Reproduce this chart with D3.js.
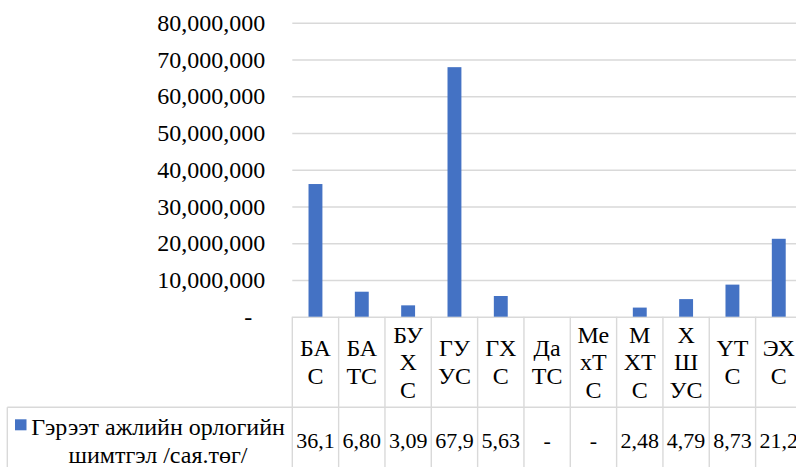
<!DOCTYPE html>
<html>
<head>
<meta charset="utf-8">
<script src="https://cdn.jsdelivr.net/npm/d3@7"></script>
<style>
  body { margin: 0; background: #fff; }
  svg { display: block; }
</style>
</head>
<body>
<div id="chart"></div>
<script>
// ангиллууд (мөр мөрөөр нь)
var categories = ["БАС", "БАТС", "БУХС", "ГУУС", "ГХС", "ДаТС", "МехТС", "МХТС", "ХШУС", "ҮТС", "ЭХС"];
var catLines = [["БА", "С"], ["БА", "ТС"], ["БУ", "Х", "С"], ["ГУ", "УС"], ["ГХ", "С"], ["Да", "ТС"],
                ["Ме", "хТ", "С"], ["М", "ХТ", "С"], ["Х", "Ш", "УС"], ["ҮТ", "С"], ["ЭХ", "С"]];
var values = [36100000, 6800000, 3090000, 67900000, 5630000, 0, 0, 2480000, 4790000, 8730000, 21200000];
var seriesName = ["Гэрээт ажлийн орлогийн", "шимтгэл /сая.төг/"];
var yTicks = [0, 10000000, 20000000, 30000000, 40000000, 50000000, 60000000, 70000000, 80000000];

var W = 796, H = 467;
var plotLeft = 292.3, plotTop = 22.7, plotBottom = 316.7, step = 46.33;
var rowTop = 407.3, tableLeft = 7.3;
var blue = "#4472c4", grid = "#d9d9d9";
var font = "'Liberation Serif', Tinos, 'Times New Roman', Times, 'DejaVu Serif', serif";

var svg = d3.select("#chart").append("svg")
    .attr("width", W).attr("height", H);

var x = d3.scaleBand().domain(categories)
    .range([plotLeft, plotLeft + step * categories.length])
    .paddingInner(0.7).paddingOuter(0.35);
var y = d3.scaleLinear().domain([0, 80000000]).range([plotBottom, plotTop]);

// хэвтээ шугамууд
var yAxis = d3.axisLeft(y).tickValues(yTicks)
    .tickSize(-(W - plotLeft)).tickPadding(27)
    .tickFormat(function (d) { return d === 0 ? "-" : d3.format(",")(d); });
var ga = svg.append("g").attr("transform", "translate(" + plotLeft + ",0)").call(yAxis);
ga.select(".domain").remove();
ga.selectAll(".tick line").attr("stroke", grid).attr("stroke-width", 1.4);
ga.selectAll(".tick text").attr("font-size", 24).attr("fill", "#000");
ga.selectAll(".tick text").filter(function (d) { return d === 0; }).attr("x", -40);

// багана
svg.append("g").selectAll("rect").data(values).enter().append("rect")
    .attr("x", function (d, i) { return x(categories[i]); })
    .attr("y", function (d) { return y(d); })
    .attr("width", x.bandwidth())
    .attr("height", function (d) { return y(0) - y(d); })
    .attr("fill", blue);

// хүснэгт
var cellX = function (i) { return x(categories[i]) - x.step() * x.paddingOuter(); };
var t = svg.append("g").attr("stroke", grid).attr("stroke-width", 1.4);
for (var i = 0; i <= categories.length; i++) {
    var cx = plotLeft + i * x.step();
    t.append("line").attr("x1", cx).attr("x2", cx).attr("y1", plotBottom).attr("y2", H);
}
t.append("line").attr("x1", tableLeft).attr("x2", W).attr("y1", rowTop).attr("y2", rowTop);
t.append("line").attr("x1", tableLeft).attr("x2", tableLeft).attr("y1", rowTop).attr("y2", H);

// ангиллын нэрс
var lh = 27.5, mid = (plotBottom + rowTop) / 2;
catLines.forEach(function (lines, i) {
    var tx = svg.append("text").attr("text-anchor", "middle").attr("font-size", 24);
    lines.forEach(function (s, j) {
        tx.append("tspan").attr("x", cellX(i) + x.step() / 2)
            .attr("y", mid + (j - (lines.length - 1) / 2) * lh + 8).text(s);
    });
});

// утгууд (багтахгүй бол тасдана)
values.forEach(function (v, i) {
    var txt = svg.append("text").attr("text-anchor", "middle").attr("font-size", 22)
        .attr("font-family", font)
        .attr("x", cellX(i) + x.step() / 2).attr("y", 448);
    if (v === 0) { txt.text("-"); return; }
    var full = d3.format(",")(v), n = full.length;
    txt.text(full);
    while (n > 1 && txt.node().getComputedTextLength() > x.step() - 4) {
        n--; txt.text(full.slice(0, n));
    }
});

// тайлбар
svg.append("rect").attr("x", 15).attr("y", 419.3).attr("width", 11.5).attr("height", 11)
    .attr("fill", blue);
seriesName.forEach(function (s, j) {
    svg.append("text").attr("text-anchor", "middle").attr("font-size", 24)
        .attr("x", 158).attr("y", 435 + j * 28).text(s);
});

svg.selectAll("text").attr("font-family", font).style("font-family", font);
</script>
</body>
</html>
